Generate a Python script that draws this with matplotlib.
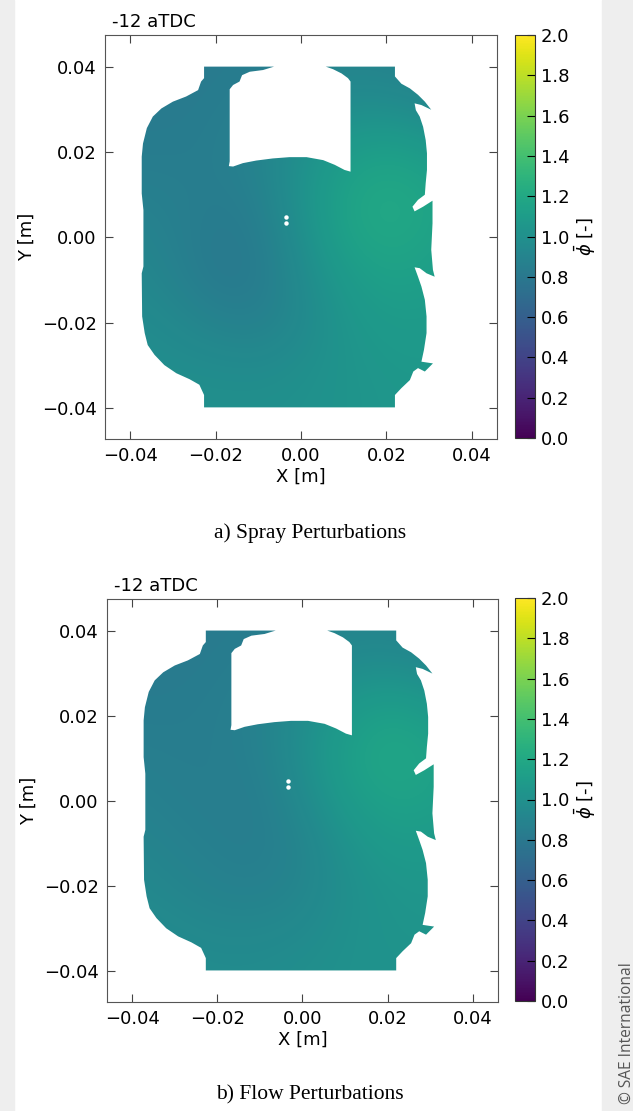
import numpy as np
import matplotlib
matplotlib.use("Agg")
import matplotlib.pyplot as plt
from matplotlib.path import Path
from matplotlib.patches import PathPatch, Rectangle
from matplotlib.ticker import FuncFormatter

# chamber cross-section outline [m], traced clockwise from the top-left corner
outline_x = [-0.0227, -0.0063, -0.0089, -0.0120, -0.0138, -0.0144, -0.0159, -0.0167,
             -0.0167, -0.0169, -0.0159, -0.0136, -0.0105, -0.0066, -0.0027, 0.0013,
             0.0052, 0.0079, 0.0102, 0.0116, 0.0116, 0.0110, 0.0095, 0.0075, 0.0058,
             0.0220, 0.0220, 0.0235, 0.0255, 0.0274, 0.0290, 0.0305, 0.0282, 0.0266,
             0.0269, 0.0278, 0.0286, 0.0292, 0.0295, 0.0295, 0.0292, 0.0290, 0.0274,
             0.0261, 0.0266, 0.0286, 0.0308, 0.0308, 0.0305, 0.0309, 0.0313, 0.0294,
             0.0278, 0.0266, 0.0274, 0.0282, 0.0290, 0.0294, 0.0294, 0.0288, 0.0282,
             0.0309, 0.0290, 0.0274, 0.0263, 0.0255, 0.0235, 0.0220, 0.0220,
             -0.0227, -0.0227, -0.0238, -0.0261, -0.0292, -0.0320, -0.0343, -0.0359,
             -0.0366, -0.0372, -0.0373, -0.0369, -0.0369, -0.0373, -0.0373, -0.0370,
             -0.0361, -0.0347, -0.0327, -0.0300, -0.0269, -0.0241, -0.0234, -0.0227]
outline_y = [0.0400, 0.0400, 0.0392, 0.0388, 0.0380, 0.0365, 0.0357, 0.0347,
             0.0178, 0.0167, 0.0166, 0.0174, 0.0180, 0.0185, 0.0188, 0.0188,
             0.0181, 0.0170, 0.0158, 0.0154, 0.0365, 0.0373, 0.0384, 0.0394, 0.0400,
             0.0400, 0.0377, 0.0360, 0.0349, 0.0334, 0.0318, 0.0299, 0.0310, 0.0314,
             0.0298, 0.0283, 0.0259, 0.0228, 0.0197, 0.0158, 0.0127, 0.0100, 0.0088,
             0.0072, 0.0061, 0.0072, 0.0086, 0.0033, -0.0029, -0.0076, -0.0092, -0.0084,
             -0.0072, -0.0070, -0.0092, -0.0115, -0.0146, -0.0185, -0.0224, -0.0263, -0.0291,
             -0.0295, -0.0314, -0.0306, -0.0314, -0.0334, -0.0353, -0.0369, -0.0398,
             -0.0398, -0.0369, -0.0345, -0.0332, -0.0318, -0.0299, -0.0275, -0.0252,
             -0.0224, -0.0185, -0.0084, -0.0068, 0.0064, 0.0103, 0.0189, 0.0220,
             0.0256, 0.0283, 0.0302, 0.0318, 0.0330, 0.0345, 0.0365, 0.0373]

# injector holes
hole_x = [-0.0035, -0.0035]
hole_y = [0.0047, 0.0033]

# mean equivalence ratio sampled on a 0.01 m grid, rows top (y=0.04) to bottom (y=-0.04)
grid_x = [-0.04, -0.03, -0.02, -0.01, 0.00, 0.01, 0.02, 0.03, 0.04]
grid_y = [0.04, 0.03, 0.02, 0.01, 0.00, -0.01, -0.02, -0.03, -0.04]
phi_spray = [
    [0.83, 0.83, 0.83, 0.84, 0.87, 0.90, 0.89, 0.87, 0.86],
    [0.83, 0.83, 0.84, 0.87, 0.93, 0.99, 0.99, 0.95, 0.90],
    [0.84, 0.84, 0.85, 0.90, 1.00, 1.10, 1.14, 1.10, 1.02],
    [0.87, 0.86, 0.84, 0.87, 1.02, 1.16, 1.20, 1.17, 1.10],
    [0.91, 0.87, 0.82, 0.84, 0.99, 1.15, 1.19, 1.16, 1.10],
    [0.94, 0.89, 0.82, 0.83, 0.95, 1.08, 1.14, 1.12, 1.08],
    [0.97, 0.94, 0.89, 0.87, 0.94, 1.04, 1.09, 1.09, 1.07],
    [0.99, 0.98, 0.97, 0.96, 0.99, 1.03, 1.06, 1.07, 1.05],
    [1.00, 1.00, 1.00, 1.00, 1.01, 1.03, 1.05, 1.05, 1.04],
]
phi_flow = [
    [0.83, 0.83, 0.83, 0.84, 0.87, 0.90, 0.90, 0.88, 0.86],
    [0.83, 0.83, 0.84, 0.86, 0.92, 0.99, 1.01, 0.97, 0.92],
    [0.84, 0.84, 0.85, 0.88, 0.98, 1.09, 1.15, 1.11, 1.03],
    [0.86, 0.85, 0.85, 0.87, 0.99, 1.13, 1.19, 1.16, 1.09],
    [0.88, 0.86, 0.85, 0.85, 0.95, 1.09, 1.15, 1.14, 1.08],
    [0.91, 0.88, 0.86, 0.85, 0.90, 1.02, 1.09, 1.09, 1.06],
    [0.94, 0.91, 0.88, 0.87, 0.91, 0.99, 1.04, 1.05, 1.04],
    [0.97, 0.95, 0.93, 0.93, 0.95, 1.00, 1.03, 1.04, 1.03],
    [0.99, 0.98, 0.97, 0.97, 0.99, 1.01, 1.02, 1.02, 1.02],
]

cases = ["a) Spray Perturbations", "b) Flow Perturbations"]
cbar_ticks = [0.0, 0.2, 0.4, 0.6, 0.8, 1.0, 1.2, 1.4, 1.6, 1.8, 2.0]
axis_ticks = [-0.04, -0.02, 0.00, 0.02, 0.04]

W, H = 633, 1111
fig = plt.figure(figsize=(W / 100, H / 100), dpi=100)

# grey page margins
fig.patches.append(Rectangle((0, 0), 14 / W, 1, transform=fig.transFigure,
                             color="#eeeeee", zorder=0))
fig.patches.append(Rectangle((602 / W, 0), 31 / W, 1, transform=fig.transFigure,
                             color="#eeeeee", zorder=0))

panels = [
    dict(phi=phi_spray, ax=(105, 35, 497, 439), cax=(515, 35, 535, 438), cap_y=533),
    dict(phi=phi_flow, ax=(107, 599, 498, 1002), cax=(515, 598, 535, 1001), cap_y=1095),
]


def frac(box):
    x0, y0, x1, y1 = box
    return [x0 / W, 1 - y1 / H, (x1 - x0) / W, (y1 - y0) / H]


def fmt(decimals):
    return FuncFormatter(lambda v, pos: f"{v:.{decimals}f}".replace("-", "\u2212"))


dx = grid_x[1] - grid_x[0]
extent = [grid_x[0] - dx / 2, grid_x[-1] + dx / 2,
          grid_y[-1] - dx / 2, grid_y[0] + dx / 2]

for p, caption in zip(panels, cases):
    ax = fig.add_axes(frac(p["ax"]))
    im = ax.imshow(np.array(p["phi"]), extent=extent, origin="upper",
                   cmap="viridis", vmin=0, vmax=2, interpolation="bicubic")
    verts = np.column_stack([outline_x + outline_x[:1], outline_y + outline_y[:1]])
    domain = PathPatch(Path(verts, closed=True), transform=ax.transData,
                       facecolor="none", edgecolor="none")
    ax.add_patch(domain)
    im.set_clip_path(domain)
    ax.plot(hole_x, hole_y, "o", color="white", ms=3.2, mec="none")

    ax.set_xlim(-0.0459, 0.0459)
    ax.set_ylim(-0.0472, 0.0474)
    ax.set_xticks(axis_ticks)
    ax.set_yticks(axis_ticks)
    ax.xaxis.set_major_formatter(fmt(2))
    ax.yaxis.set_major_formatter(fmt(2))
    ax.tick_params(direction="in", top=True, right=True, length=6,
                   labelsize=13, pad=6, color="#444444")
    for s in ax.spines.values():
        s.set_color("#555555")
    ax.set_xlabel("X [m]", fontsize=13, labelpad=2)
    ax.set_ylabel("Y [m]", fontsize=13, labelpad=4)
    ax.text(0.018, 1.01, "-12 aTDC", transform=ax.transAxes, fontsize=13,
            ha="left", va="bottom")

    cax = fig.add_axes(frac(p["cax"]))
    cb = fig.colorbar(im, cax=cax, ticks=cbar_ticks)
    cb.ax.yaxis.set_major_formatter(fmt(1))
    cb.ax.tick_params(direction="in", length=6, labelsize=13, pad=4)
    cb.outline.set_edgecolor("#333333")
    cb.set_label(r"$\bar{\phi}$ [-]", fontsize=13, labelpad=2)

    fig.text(310 / W, 1 - p["cap_y"] / H, caption, family="Liberation Serif",
             fontsize=15.5, ha="center", va="center")

fig.text(627 / W, 1 - 1033 / H, "© SAE International", rotation=90,
         family="Open Sans", fontsize=11.2, color="#555555", ha="center", va="center")

fig.savefig("out.png", dpi=100)
